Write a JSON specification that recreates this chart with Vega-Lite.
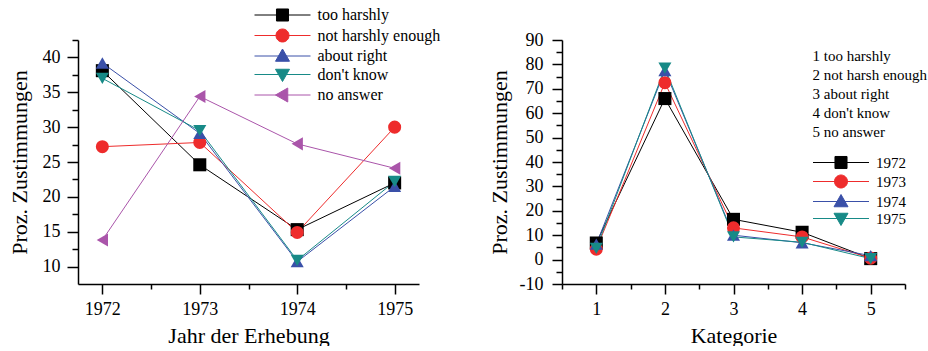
{
  "$schema": "https://vega.github.io/schema/vega-lite/v6.json",
  "background": "white",
  "padding": {"left": 8, "top": 7, "right": 5, "bottom": 0},
  "spacing": 143,
  "bounds": "flush",
  "config": {
    "view": {"stroke": null},
    "font": "Liberation Serif",
    "axis": {
      "grid": false,
      "domainColor": "black",
      "domainWidth": 1.5,
      "tickColor": "black",
      "tickWidth": 1.5,
      "labelColor": "black",
      "titleColor": "black",
      "labelFont": "Liberation Serif",
      "titleFont": "Liberation Serif",
      "labelFontSize": 18,
      "titleFontSize": 22,
      "titleFontWeight": "normal",
      "labelOverlap": false
    },
    "legend": {
      "labelFont": "Liberation Serif",
      "titleFont": "Liberation Serif",
      "labelColor": "black",
      "titleColor": "black",
      "padding": 0,
      "symbolOpacity": 1
    }
  },
  "datasets": {
    "left": [
      {"year": 1972, "series": "too harshly", "value": 38.1},
      {"year": 1973, "series": "too harshly", "value": 24.6},
      {"year": 1974, "series": "too harshly", "value": 15.3},
      {"year": 1975, "series": "too harshly", "value": 22.0},
      {"year": 1972, "series": "not harshly enough", "value": 27.2},
      {"year": 1973, "series": "not harshly enough", "value": 27.8},
      {"year": 1974, "series": "not harshly enough", "value": 14.9},
      {"year": 1975, "series": "not harshly enough", "value": 30.0},
      {"year": 1972, "series": "about right", "value": 39.2},
      {"year": 1973, "series": "about right", "value": 29.1},
      {"year": 1974, "series": "about right", "value": 10.7},
      {"year": 1975, "series": "about right", "value": 21.5},
      {"year": 1972, "series": "don't know", "value": 37.0},
      {"year": 1973, "series": "don't know", "value": 29.5},
      {"year": 1974, "series": "don't know", "value": 10.9},
      {"year": 1975, "series": "don't know", "value": 22.2},
      {"year": 1972, "series": "no answer", "value": 13.8},
      {"year": 1973, "series": "no answer", "value": 34.4},
      {"year": 1974, "series": "no answer", "value": 27.6},
      {"year": 1975, "series": "no answer", "value": 24.1}
    ],
    "right": [
      {"cat": 1, "year": "1972", "value": 6.8},
      {"cat": 2, "year": "1972", "value": 66.0},
      {"cat": 3, "year": "1972", "value": 16.5},
      {"cat": 4, "year": "1972", "value": 11.2},
      {"cat": 5, "year": "1972", "value": 0.4},
      {"cat": 1, "year": "1973", "value": 4.3},
      {"cat": 2, "year": "1973", "value": 72.5},
      {"cat": 3, "year": "1973", "value": 13.0},
      {"cat": 4, "year": "1973", "value": 9.3},
      {"cat": 5, "year": "1973", "value": 0.6},
      {"cat": 1, "year": "1974", "value": 6.3},
      {"cat": 2, "year": "1974", "value": 77.5},
      {"cat": 3, "year": "1974", "value": 10.0},
      {"cat": 4, "year": "1974", "value": 6.9},
      {"cat": 5, "year": "1974", "value": 1.6},
      {"cat": 1, "year": "1975", "value": 4.6},
      {"cat": 2, "year": "1975", "value": 78.5},
      {"cat": 3, "year": "1975", "value": 9.3},
      {"cat": 4, "year": "1975", "value": 7.1},
      {"cat": 5, "year": "1975", "value": 0.4}
    ]
  },
  "hconcat": [
    {
      "width": 341,
      "height": 244,
      "data": {"name": "left"},
      "encoding": {
        "x": {
          "field": "year", "type": "quantitative",
          "scale": {"domain": [1971.75, 1975.25], "nice": false, "zero": false},
          "axis": {
            "values": [1972, 1972.5, 1973, 1973.5, 1974, 1974.5, 1975],
            "labelExpr": "datum.value % 1 === 0 ? '' + datum.value : ''",
            "tickSize": {"condition": {"test": "datum.value % 1 === 0", "value": 10}, "value": 5},
            "labelPadding": 6,
            "title": "Jahr der Erhebung",
            "titlePadding": 7
          }
        },
        "y": {
          "field": "value", "type": "quantitative",
          "scale": {"domain": [7.5, 42.5], "nice": false, "zero": false},
          "axis": {
            "values": [10, 12.5, 15, 17.5, 20, 22.5, 25, 27.5, 30, 32.5, 35, 37.5, 40, 42.5],
            "labelExpr": "datum.value % 5 === 0 ? '' + datum.value : ''",
            "tickSize": {"condition": {"test": "datum.value % 5 === 0", "value": 11}, "value": 6},
            "labelPadding": 7,
            "title": "Proz. Zustimmungen",
            "titlePadding": 11
          }
        }
      },
      "layer": [
        {
          "mark": {"type": "line", "strokeWidth": 1},
          "encoding": {
            "color": {
              "field": "series", "type": "nominal",
              "scale": {"domain": ["too harshly", "not harshly enough", "about right", "don't know", "no answer"],
                        "range": ["#000000", "#ee2c2c", "#3a50a8", "#178a87", "#aa55aa"]},
              "legend": null
            }
          }
        },
        {
          "mark": {"type": "point", "filled": true, "size": 170, "opacity": 1},
          "encoding": {
            "color": {
              "field": "series", "type": "nominal",
              "scale": {"domain": ["too harshly", "not harshly enough", "about right", "don't know", "no answer"],
                        "range": ["#000000", "#ee2c2c", "#3a50a8", "#178a87", "#aa55aa"]},
              "legend": null
            },
            "shape": {
              "field": "series", "type": "nominal",
              "scale": {"domain": ["too harshly", "not harshly enough", "about right", "don't know", "no answer"],
                        "range": ["square", "circle", "triangle-up", "triangle-down", "triangle-left"]},
              "legend": null
            }
          }
        },
        {
          "transform": [{"filter": "false"}],
          "mark": {"type": "point", "filled": true, "opacity": 1},
          "encoding": {
            "fill": {
              "field": "series", "type": "nominal",
              "scale": {"domain": ["too harshly", "not harshly enough", "about right", "don't know", "no answer"],
                        "range": ["#000000", "#ee2c2c", "#3a50a8", "#178a87", "#aa55aa"]},
              "legend": {"orient": "none", "legendX": 175.5, "legendY": -33, "title": null, "symbolSize": 196, "symbolStrokeWidth": 1, "symbolOpacity": 1, "labelFontSize": 16, "labelOffset": 48, "rowPadding": 2.5}
            },
            "stroke": {
              "field": "series", "type": "nominal",
              "scale": {"domain": ["too harshly", "not harshly enough", "about right", "don't know", "no answer"],
                        "range": ["#000000", "#ee2c2c", "#3a50a8", "#178a87", "#aa55aa"]},
              "legend": {"orient": "none", "legendX": 175.5, "legendY": -33, "title": null, "symbolSize": 196, "symbolStrokeWidth": 1, "symbolOpacity": 1, "labelFontSize": 16, "labelOffset": 48, "rowPadding": 2.5}
            },
            "shape": {
              "field": "series", "type": "nominal",
              "scale": {"domain": ["too harshly", "not harshly enough", "about right", "don't know", "no answer"],
                        "range": [
                          "M-1,0H7M2.14,-0.86H3.86V0.86H2.14Z",
                          "M-1,0H7M2.07,0A0.93,0.93,0,1,0,3.93,0A0.93,0.93,0,1,0,2.07,0Z",
                          "M-1,0H7M3,-1L4,0.75L2,0.75Z",
                          "M-1,0H7M3,1L4,-0.75L2,-0.75Z",
                          "M-1,0H7M2,0L3.75,-1L3.75,1Z"
                        ]},
              "legend": {"orient": "none", "legendX": 175.5, "legendY": -33, "title": null, "symbolSize": 196, "symbolStrokeWidth": 1, "symbolOpacity": 1, "labelFontSize": 16, "labelOffset": 48, "rowPadding": 2.5}
            }
          }
        }
      ],
      "resolve": {"scale": {"shape": "independent", "fill": "independent", "stroke": "independent"}}
    },
    {
      "width": 343,
      "height": 244,
      "data": {"name": "right"},
      "encoding": {
        "x": {
          "field": "cat", "type": "quantitative",
          "scale": {"domain": [0.5, 5.5], "nice": false, "zero": false},
          "axis": {
            "values": [0.5, 1, 1.5, 2, 2.5, 3, 3.5, 4, 4.5, 5, 5.5],
            "labelExpr": "datum.value % 1 === 0 ? '' + datum.value : ''",
            "tickSize": {"condition": {"test": "datum.value % 1 === 0", "value": 10}, "value": 5},
            "labelPadding": 6,
            "title": "Kategorie",
            "titlePadding": 7
          }
        },
        "y": {
          "field": "value", "type": "quantitative",
          "scale": {"domain": [-10, 90], "nice": false, "zero": false},
          "axis": {
            "values": [-10, -5, 0, 5, 10, 15, 20, 25, 30, 35, 40, 45, 50, 55, 60, 65, 70, 75, 80, 85, 90],
            "labelExpr": "datum.value % 10 === 0 ? '' + datum.value : ''",
            "tickSize": {"condition": {"test": "datum.value % 10 === 0", "value": 10}, "value": 6},
            "labelPadding": 9,
            "title": "Proz. Zustimmungen",
            "titlePadding": 8
          }
        }
      },
      "layer": [
        {
          "mark": {"type": "line", "strokeWidth": 1},
          "encoding": {
            "color": {
              "field": "year", "type": "nominal",
              "scale": {"domain": ["1972", "1973", "1974", "1975"], "range": ["#000000", "#ee2c2c", "#3a50a8", "#178a87"]},
              "legend": null
            }
          }
        },
        {
          "mark": {"type": "point", "filled": true, "size": 170, "opacity": 1},
          "encoding": {
            "color": {
              "field": "year", "type": "nominal",
              "scale": {"domain": ["1972", "1973", "1974", "1975"], "range": ["#000000", "#ee2c2c", "#3a50a8", "#178a87"]},
              "legend": null
            },
            "shape": {
              "field": "year", "type": "nominal",
              "scale": {"domain": ["1972", "1973", "1974", "1975"], "range": ["square", "circle", "triangle-up", "triangle-down"]},
              "legend": null
            }
          }
        },
        {
          "transform": [{"filter": "false"}],
          "mark": {"type": "point", "filled": true, "opacity": 1},
          "encoding": {
            "fill": {
              "field": "year", "type": "nominal",
              "scale": {"domain": ["1972", "1973", "1974", "1975"], "range": ["#000000", "#ee2c2c", "#3a50a8", "#178a87"]},
              "legend": {"orient": "none", "legendX": 250.5, "legendY": 9, "title": ["1 too harshly", "2 not harsh enough", "3 about right", "4 don't know", "5 no answer"], "titleFontSize": 15, "titleFontWeight": "normal", "titleLineHeight": 19, "titlePadding": 15, "titleAnchor": "start", "symbolSize": 196, "symbolStrokeWidth": 1, "symbolOpacity": 1, "labelFontSize": 15, "labelOffset": 48.5, "rowPadding": 1}
            },
            "stroke": {
              "field": "year", "type": "nominal",
              "scale": {"domain": ["1972", "1973", "1974", "1975"], "range": ["#000000", "#ee2c2c", "#3a50a8", "#178a87"]},
              "legend": {"orient": "none", "legendX": 250.5, "legendY": 9, "title": ["1 too harshly", "2 not harsh enough", "3 about right", "4 don't know", "5 no answer"], "titleFontSize": 15, "titleFontWeight": "normal", "titleLineHeight": 19, "titlePadding": 15, "titleAnchor": "start", "symbolSize": 196, "symbolStrokeWidth": 1, "symbolOpacity": 1, "labelFontSize": 15, "labelOffset": 48.5, "rowPadding": 1}
            },
            "shape": {
              "field": "year", "type": "nominal",
              "scale": {"domain": ["1972", "1973", "1974", "1975"],
                        "range": [
                          "M-1,0H7M2.14,-0.86H3.86V0.86H2.14Z",
                          "M-1,0H7M2.07,0A0.93,0.93,0,1,0,3.93,0A0.93,0.93,0,1,0,2.07,0Z",
                          "M-1,0H7M3,-1L4,0.75L2,0.75Z",
                          "M-1,0H7M3,1L4,-0.75L2,-0.75Z"
                        ]},
              "legend": {"orient": "none", "legendX": 250.5, "legendY": 9, "title": ["1 too harshly", "2 not harsh enough", "3 about right", "4 don't know", "5 no answer"], "titleFontSize": 15, "titleFontWeight": "normal", "titleLineHeight": 19, "titlePadding": 15, "titleAnchor": "start", "symbolSize": 196, "symbolStrokeWidth": 1, "symbolOpacity": 1, "labelFontSize": 15, "labelOffset": 48.5, "rowPadding": 1}
            }
          }
        }
      ],
      "resolve": {"scale": {"shape": "independent", "fill": "independent", "stroke": "independent"}}
    }
  ]
}
